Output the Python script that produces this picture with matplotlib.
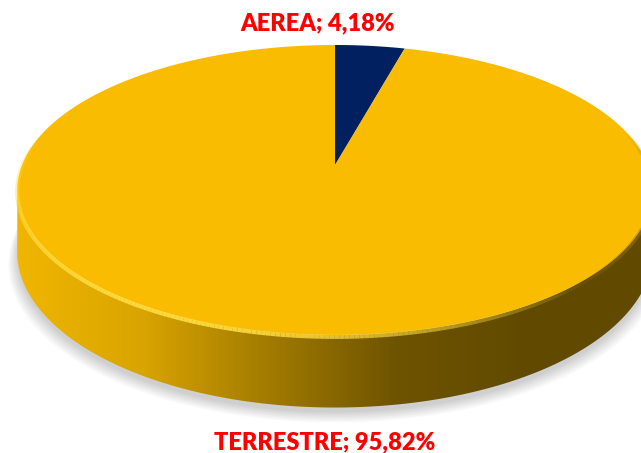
import numpy as np
import matplotlib.pyplot as plt
from matplotlib.patches import Polygon
from matplotlib.collections import LineCollection
from matplotlib.colors import LinearSegmentedColormap, to_rgba

labels = ["AEREA", "TERRESTRE"]
values = [4.18, 95.82]
colors = ["#002060", "#F9BC00"]

# projection of the disc (pixel units)
cx, cy = 335, 165
R, Ry, k = 313, 140.7, 0.1724
depth = 60


def project(theta, drop=0.0):
    x = np.cos(theta)
    y = np.sin(theta)
    s = 1.0 / (1.0 + k * y)
    return cx + R * x * s, cy - Ry * y * s + drop * s


def rim(ax, t0, t1, color, lw, peak):
    # rim line whose alpha rises and falls along its length
    th = np.linspace(t0, t1, 200)
    px, py = project(th, 1.5)
    pts = np.column_stack([px, py]).reshape(-1, 1, 2)
    segs = np.concatenate([pts[:-1], pts[1:]], axis=1)
    a = np.sin(np.linspace(0, np.pi, len(segs))) * peak
    rgba = np.array([to_rgba(color, ai) for ai in a])
    ax.add_collection(LineCollection(segs, colors=rgba, linewidths=lw, zorder=3))


def main() -> None:
    fig = plt.figure(figsize=(6.41, 4.53), dpi=100)
    ax = fig.add_axes([0, 0, 1, 1])
    ax.set_xlim(0, 641)
    ax.set_ylim(453, 0)
    ax.axis("off")

    # soft shadow under the disc
    t = np.linspace(0, 2 * np.pi, 300)
    for i in range(8):
        sx, sy = project(t, depth + 4 + i * 1.2)
        ax.fill(cx + (sx - cx) * (1 + i * 0.004), sy, color="#000000",
                alpha=0.025, lw=0, zorder=0)

    # side wall (front part) with a horizontal gradient
    ta = np.pi + np.arcsin(k)
    tb = 2 * np.pi - np.arcsin(k)
    th = np.linspace(ta, tb, 300)
    xt, yt = project(th)
    xb, yb = project(th[::-1], depth)
    side = Polygon(np.column_stack([np.r_[xt, xb], np.r_[yt, yb]]),
                   closed=True, facecolor="none", edgecolor="none")
    ax.add_patch(side)
    cmap = LinearSegmentedColormap.from_list(
        "side", ["#F0B600", "#D9A400", "#A07A00", "#6E5300", "#614A00", "#614A00"])
    grad = np.linspace(0, 1, 512).reshape(1, -1)
    im = ax.imshow(grad, cmap=cmap, extent=(15, 655, 420, 180),
                   aspect="auto", zorder=1)
    im.set_clip_path(side)

    # top face wedges, clockwise from 12 o'clock
    start = np.pi / 2
    for val, col in zip(values, colors):
        span = 2 * np.pi * val / sum(values)
        th = np.linspace(start, start - span, max(int(val * 6), 20))
        px, py = project(th)
        ax.fill(np.r_[cx, px], np.r_[cy, py], color=col, lw=0, zorder=2)
        start -= span

    # bevel light on the front-left rim, shade on the right
    rim(ax, np.pi * 0.92, np.pi * 1.75, "#FFDC40", 3, 0.95)
    rim(ax, np.pi * 1.72, np.pi * 2.08, "#A87E00", 3, 0.55)

    font = dict(family=["Lato", "DejaVu Sans"], fontweight="heavy",
                color="#FF0000", fontsize=17, ha="center", va="center")
    ax.text(318, 23, f"{labels[0]}; {values[0]:.2f}%".replace(".", ","), **font)
    ax.text(325, 442, f"{labels[1]}; {values[1]:.2f}%".replace(".", ","), **font)

    fig.savefig("out.png", dpi=100)


if __name__ == "__main__":
    main()
